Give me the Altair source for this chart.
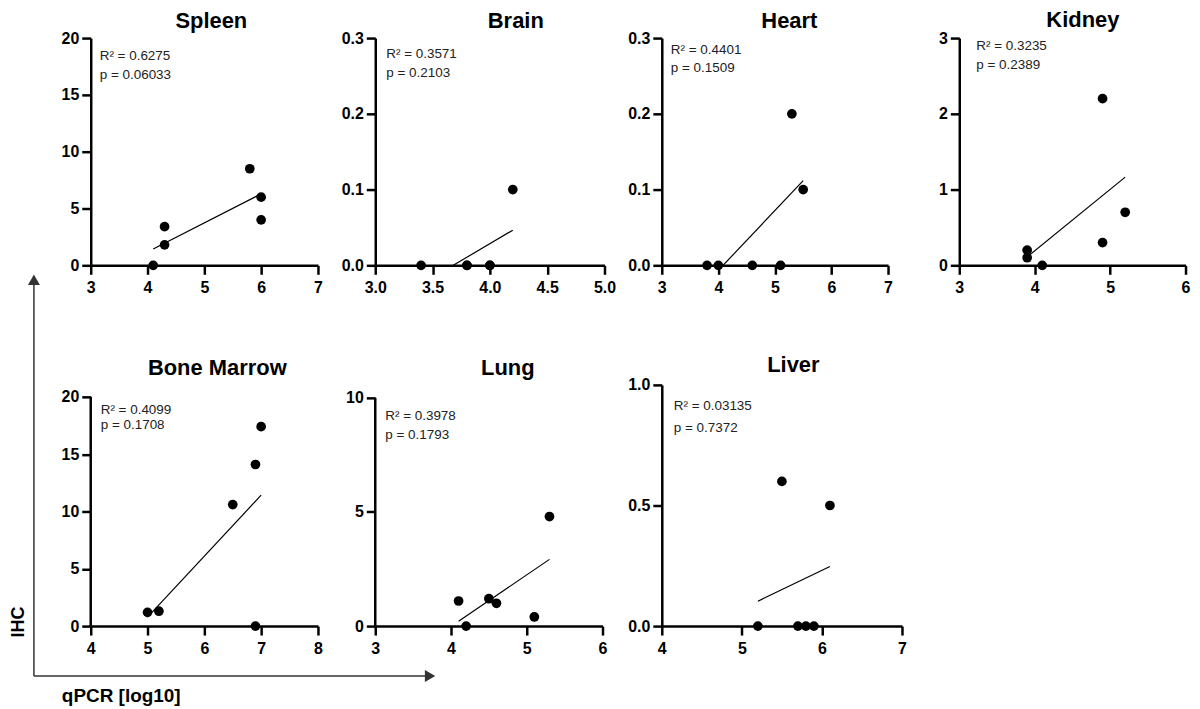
import altair as alt
import pandas as pd

FONT = "Liberation Sans"

organs = ["Spleen", "Brain", "Heart", "Kidney", "Bone Marrow", "Lung", "Liver"]

spleen_x = [4.1, 4.3, 4.3, 5.8, 6.0, 6.0]
spleen_y = [0.0, 3.4, 1.8, 8.5, 6.0, 4.0]
brain_x = [3.4, 3.8, 3.8, 4.0, 4.0, 4.2]
brain_y = [0.0, 0.0, 0.0, 0.0, 0.0, 0.1]
heart_x = [3.8, 4.0, 4.6, 5.1, 5.3, 5.5]
heart_y = [0.0, 0.0, 0.0, 0.0, 0.2, 0.1]
kidney_x = [3.9, 3.9, 4.1, 4.9, 4.9, 5.2]
kidney_y = [0.2, 0.1, 0.0, 2.2, 0.3, 0.7]
marrow_x = [5.0, 5.2, 6.5, 6.9, 7.0, 6.9]
marrow_y = [1.2, 1.3, 10.6, 14.1, 17.4, 0.0]
lung_x = [4.1, 4.2, 4.5, 4.6, 5.1, 5.3]
lung_y = [1.1, 0.0, 1.2, 1.0, 0.4, 4.8]
liver_x = [5.2, 5.5, 5.7, 5.8, 5.9, 6.1]
liver_y = [0.0, 0.6, 0.0, 0.0, 0.0, 0.5]

r2_labels = ["R² = 0.6275", "R² = 0.3571", "R² = 0.4401", "R² = 0.3235",
             "R² = 0.4099", "R² = 0.3978", "R² = 0.03135"]
p_labels = ["p = 0.06033", "p = 0.2103", "p = 0.1509", "p = 0.2389",
            "p = 0.1708", "p = 0.1793", "p = 0.7372"]

x_ticks = [[3, 4, 5, 6, 7], [3.0, 3.5, 4.0, 4.5, 5.0], [3, 4, 5, 6, 7], [3, 4, 5, 6],
           [4, 5, 6, 7, 8], [3, 4, 5, 6], [4, 5, 6, 7]]
y_ticks = [[0, 5, 10, 15, 20], [0.0, 0.1, 0.2, 0.3], [0.0, 0.1, 0.2, 0.3], [0, 1, 2, 3],
           [0, 5, 10, 15, 20], [0, 5, 10], [0.0, 0.5, 1.0]]
x_formats = ["d", ".1f", "d", "d", "d", "d", "d"]
y_formats = ["d", ".1f", ".1f", "d", "d", "d", ".1f"]

x_title = "qPCR [log10]"
y_title = "IHC"

series = [(spleen_x, spleen_y), (brain_x, brain_y), (heart_x, heart_y), (kidney_x, kidney_y),
          (marrow_x, marrow_y), (lung_x, lung_y), (liver_x, liver_y)]

# pixel layout: width, height, drop of top tick below panel top,
# annotation x, line1 y, line2 y, title centre x, title baseline y
layout = [
    (228, 228, 0, 9, 18, 37, 121, -10),
    (230, 228, 0, 11, 16, 35, 141, -10),
    (227, 228, 0, 9, 12, 30, 128, -10),
    (227, 228, 0, 17, 8, 27, 124, -11),
    (228, 242, 12, 10, 25, 40, 127, -10),
    (228, 242, 13, 10, 31, 50, 133, -10),
    (241, 242, 0, 12, 21, 43, 132, -13),
]


def panel(i):
    xs, ys = series[i]
    w, h, drop, ax, ay1, ay2, tx, ty = layout[i]
    df = pd.DataFrame({"qPCR": xs, "IHC": ys})
    xt, yt = x_ticks[i], y_ticks[i]
    ytop = yt[-1] * h / (h - drop)
    xenc = alt.X("qPCR:Q",
                 scale=alt.Scale(domain=[xt[0], xt[-1]], nice=False, zero=False),
                 axis=alt.Axis(values=xt, format=x_formats[i], labelPadding=5,
                               labelFlush=False, title=None))
    yenc = alt.Y("IHC:Q",
                 scale=alt.Scale(domain=[yt[0], ytop], nice=False, zero=False),
                 axis=alt.Axis(values=yt, format=y_formats[i], labelPadding=3,
                               labelFlush=False, title=None, domain=(drop == 0)))
    pts = alt.Chart(df).mark_circle(size=95, color="black", opacity=1).encode(x=xenc, y=yenc)
    fit = (alt.Chart(df).transform_regression("qPCR", "IHC")
           .mark_line(color="black", strokeWidth=1.2, clip=True)
           .encode(x=xenc, y=yenc))
    one = pd.DataFrame({"t": [organs[i]]})
    title = alt.Chart(one).mark_text(align="center", baseline="alphabetic", font=FONT,
                                     fontSize=22, fontWeight="bold", color="black").encode(
        x=alt.value(tx), y=alt.value(ty), text="t:N")
    t1 = alt.Chart(pd.DataFrame({"t": [r2_labels[i]]})).mark_text(
        align="left", baseline="middle", font=FONT, fontSize=13.5, color="#222"
    ).encode(x=alt.value(ax), y=alt.value(ay1), text="t:N")
    t2 = alt.Chart(pd.DataFrame({"t": [p_labels[i]]})).mark_text(
        align="left", baseline="middle", font=FONT, fontSize=13.5, color="#222"
    ).encode(x=alt.value(ax), y=alt.value(ay2), text="t:N")
    layers = [pts, fit, title, t1, t2]
    if drop:
        yline = alt.Chart(one).mark_rule(color="black", strokeWidth=2.5).encode(
            x=alt.datum(xt[0]), y=alt.datum(yt[0]), y2=alt.datum(yt[-1]))
        layers.append(yline)
    if i == 4:
        a = pd.DataFrame({"t": [y_title]})
        b = pd.DataFrame({"t": [x_title]})
        vline = alt.Chart(a).mark_rule(color="#333", strokeWidth=1.5).encode(
            x=alt.value(-57), y=alt.value(-101), y2=alt.value(292))
        hline = alt.Chart(a).mark_rule(color="#333", strokeWidth=1.5).encode(
            x=alt.value(-57), x2=alt.value(336), y=alt.value(292))
        uphead = alt.Chart(a).mark_point(shape="triangle-up", filled=True, size=144,
                                         color="#333", opacity=1).encode(
            x=alt.value(-57), y=alt.value(-105.5))
        righthead = alt.Chart(a).mark_point(shape="triangle-right", filled=True, size=144,
                                            color="#333", opacity=1).encode(
            x=alt.value(340.5), y=alt.value(292))
        ylab = alt.Chart(a).mark_text(angle=270, align="center", baseline="middle",
                                      font=FONT, fontSize=18, fontWeight="bold",
                                      color="black").encode(
            x=alt.value(-72), y=alt.value(238), text="t:N")
        xlab = alt.Chart(b).mark_text(align="left", baseline="alphabetic",
                                      font=FONT, fontSize=19, fontWeight="bold",
                                      color="black").encode(
            x=alt.value(-29), y=alt.value(318), text="t:N")
        layers += [vline, hline, uphead, righthead, ylab, xlab]
    return alt.layer(*layers).properties(width=w, height=h)


panels = [panel(i) for i in range(7)]

chart = (
    alt.concat(*panels, columns=4, spacing={"row": 120, "column": 57.5}, bounds="flush")
    .properties(padding={"left": 2, "top": 0, "right": 2, "bottom": 0})
    .configure_view(stroke=None)
    .configure_axis(domainColor="black", domainWidth=2.5, tickColor="black", tickWidth=2.5,
                    tickSize=9, labelFont=FONT, labelFontSize=16, labelFontWeight="bold",
                    labelColor="black", grid=False)
)

chart.save("out.html", embed_options={"renderer": "svg", "actions": False})
